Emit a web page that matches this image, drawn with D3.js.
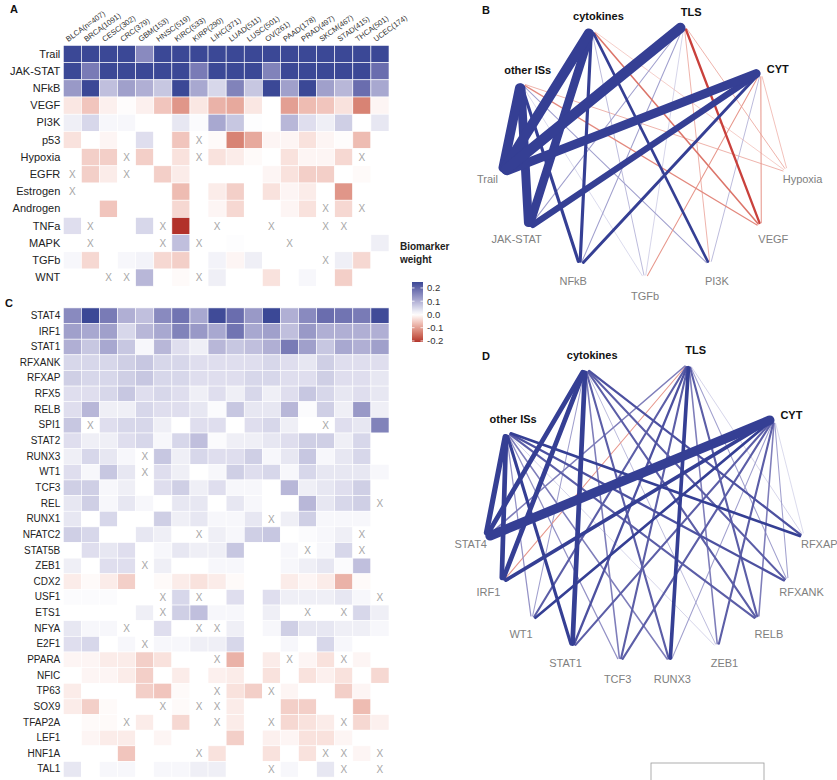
<!DOCTYPE html>
<html><head><meta charset="utf-8">
<script src="https://cdn.jsdelivr.net/npm/d3@7"></script>
<style>body{margin:0;background:#fff} text{font-family:"Liberation Sans",Arial,sans-serif}</style>
</head><body><svg id="c" width="837" height="780"></svg>
<script>
// ---------------- DATA ----------------
const cancers = ["BLCA(n=407)","BRCA(1091)","CESC(302)","CRC(379)","GBM(153)","HNSC(519)","KIRC(533)","KIRP(290)","LIHC(371)","LUAD(511)","LUSC(501)","OV(261)","PAAD(178)","PRAD(497)","SKCM(467)","STAD(415)","THCA(501)","UCEC(174)"];

const pathwaysA = ["Trail","JAK-STAT","NFkB","VEGF","PI3K","p53","Hypoxia","EGFR","Estrogen","Androgen","TNFa","MAPK","TGFb","WNT"];
const valuesA = [
 [.25,.25,.25,.25,.15,.25,.25,.25,.25,.25,.25,.25,.25,.25,.25,.25,.25,.25],
 [.25,.17,.25,.25,.25,.25,.25,.17,.25,.25,.25,.16,.25,.25,.25,.25,.25,.19],
 [.13,.25,.08,.12,.1,.07,.25,.11,.05,.16,.07,.25,.12,.25,.12,.09,.19,.11],
 [-.025,-.06,-.015,-.003,-.015,-.06,-.11,-.025,-.08,-.09,-.025,0,-.1,-.07,-.06,-.03,-.13,-.01],
 [.02,.05,.01,.01,0,0,.03,.005,.11,.07,.003,0,.09,.04,.02,.06,0,.03],
 [-.03,0,-.01,0,.04,0,-.06,null,-.005,-.13,-.09,-.01,-.01,-.03,-.01,-.003,-.07,0],
 [0,-.05,-.05,null,-.05,0,-.03,null,-.03,-.02,-.005,0,-.03,-.01,-.01,-.04,null,0],
 [null,-.05,-.02,null,0,-.05,-.02,0,0,0,0,-.01,-.03,-.05,-.05,0,-.005,0],
 [null,0,0,0,0,0,-.07,0,-.02,-.05,0,-.03,-.01,-.02,0,-.11,0,0],
 [0,0,-.06,0,0,0,-.04,0,-.01,-.04,0,0,-.01,-.03,null,-.04,null,0],
 [.04,null,0,0,.05,null,-.25,0,null,0,0,null,0,0,null,null,0,0],
 [0,null,0,0,0,null,.08,null,0,.003,0,0,null,0,0,0,0,.02],
 [.01,-.04,0,.01,.015,-.04,-.05,0,.015,-.01,.02,0,0,0,null,.02,-.04,0],
 [0,0,null,null,.09,0,-.005,null,.02,0,0,-.03,0,.01,0,-.05,0,0]
];

const factorsC = ["STAT4","IRF1","STAT1","RFXANK","RFXAP","RFX5","RELB","SPI1","STAT2","RUNX3","WT1","TCF3","REL","RUNX1","NFATC2","STAT5B","ZEB1","CDX2","USF1","ETS1","NFYA","E2F1","PPARA","NFIC","TP63","SOX9","TFAP2A","LEF1","HNF1A","TAL1"];
const valuesC = [
 [.15,.25,.17,.1,.08,.15,.18,.11,.24,.19,.13,.25,.1,.15,.19,.18,.17,.24],
 [.12,.11,.12,.05,.09,.11,.16,.13,.11,.18,.11,.12,.08,.13,.1,.1,.1,.1],
 [.1,.07,.11,.07,.01,.09,.04,.02,.09,.07,.08,.1,.17,.12,.07,.11,.1,.12],
 [.05,.05,.05,.06,.07,.05,.05,.04,.04,.04,.04,.05,.04,.03,.06,.04,.04,.04],
 [.06,.05,.05,.06,.07,.05,.05,.04,.04,.04,.05,.05,.04,.04,.06,.04,.04,.03],
 [.04,.04,.05,.07,.04,.05,.04,.02,.04,.02,.05,.02,.04,.07,.05,.03,.04,.03],
 [.04,.09,.02,.02,.05,.04,.04,.03,.005,.07,.03,.03,.09,.005,.06,.02,.13,.02],
 [.07,null,.04,.05,.05,.02,0,.04,.04,0,.04,.05,.02,0,null,.04,.03,.16],
 [.04,.02,.02,.04,.05,.01,.05,.08,.005,.02,.02,.03,.04,.06,.06,.02,.05,0],
 [.02,.05,.03,.01,null,.07,.02,.05,.04,.04,.06,.01,.03,.07,.01,.03,.05,0],
 [.04,.01,.07,.03,null,.04,.02,0,.01,.06,.04,.05,.01,.05,.03,.03,.03,.01],
 [.06,.06,.01,.02,0,.04,.06,.02,.04,.01,.01,0,.09,.02,.03,.04,.06,0],
 [.03,.06,.01,.03,.01,0,.03,.03,0,.03,.01,0,0,.09,.03,.05,.06,null],
 [.03,0,.05,0,0,.06,.02,.03,.01,.01,.03,null,.02,.06,.01,.01,.01,0],
 [.06,.05,0,0,.03,.02,0,null,.02,.01,.06,.07,0,.005,.01,.02,null,0],
 [0,.04,.03,.04,0,.01,.03,.02,.02,.07,0,0,.01,null,.01,.05,null,0],
 [.02,0,.04,.04,null,.02,0,0,.01,.01,0,0,.01,.02,.03,.005,.08,0],
 [-.02,-.005,-.02,-.05,0,-.005,-.02,-.03,-.02,-.005,0,0,-.02,-.01,-.02,-.08,-.005,0],
 [.005,.005,.005,0,0,null,.05,null,0,.04,0,.04,.02,.02,.02,.03,.01,null],
 [0,0,0,0,.02,null,.06,.08,.01,.01,0,.02,0,null,0,null,.05,.02],
 [.03,.01,.01,null,0,.04,0,null,null,.02,0,.01,.06,.03,.03,.02,.02,.01],
 [.04,.05,0,.01,null,.01,.01,.02,.02,.05,0,0,.01,0,.05,.01,0,0],
 [-.01,-.01,-.02,-.02,-.05,-.03,0,0,null,-.08,0,-.02,null,-.01,-.03,null,-.01,0],
 [0,-.01,-.01,-.02,-.05,0,-.02,0,-.015,-.02,0,-.03,0,-.03,-.015,-.03,0,-.04],
 [-.02,0,0,0,-.05,-.06,-.005,0,null,-.03,-.05,null,-.01,0,0,-.05,-.01,0],
 [-.02,-.05,-.005,0,0,null,-.005,null,null,-.02,0,0,-.05,-.05,0,0,-.07,0],
 [0,-.005,-.005,null,-.02,0,-.04,0,null,-.02,0,null,-.04,-.03,-.02,null,-.04,-.015],
 [0,-.01,-.02,-.02,0,-.01,0,0,0,-.05,0,-.015,-.01,-.03,-.03,-.01,0,0],
 [0,0,0,-.06,0,0,0,null,-.03,0,0,-.03,0,-.03,null,null,-.01,null],
 [.03,0,.01,.01,0,.01,.01,.02,.02,0,0,null,.01,0,.03,null,0,null]
];

const legendTicks = [-0.2,-0.1,0,0.1,0.2];

const immuneNodes = ["other ISs","cytokines","TLS","CYT"];
const nodesB = ["Hypoxia","VEGF","PI3K","TGFb","NFkB","JAK-STAT","Trail"];
const edgesB = [
 ["other ISs","Trail",0.9],["other ISs","JAK-STAT",0.85],["other ISs","NFkB",0.3],["other ISs","PI3K",0.1],["other ISs","TGFb",0.05],["other ISs","VEGF",-0.12],["other ISs","Hypoxia",-0.08],
 ["cytokines","Trail",0.95],["cytokines","JAK-STAT",0.8],["cytokines","NFkB",0.3],["cytokines","PI3K",0.25],["cytokines","TGFb",0.08],["cytokines","VEGF",-0.15],["cytokines","Hypoxia",-0.06],
 ["TLS","Trail",1.0],["TLS","JAK-STAT",0.1],["TLS","NFkB",0.1],["TLS","TGFb",0.06],["TLS","PI3K",-0.08],["TLS","VEGF",-0.22],["TLS","Hypoxia",-0.08],
 ["CYT","Trail",0.85],["CYT","JAK-STAT",0.6],["CYT","NFkB",0.28],["CYT","TGFb",-0.1],["CYT","PI3K",0.08],["CYT","VEGF",-0.1],["CYT","Hypoxia",-0.07]
];
const nodesD = ["RFXAP","RFXANK","RELB","ZEB1","RUNX3","TCF3","STAT1","WT1","IRF1","STAT4"];
const edgesD = [
 ["other ISs","STAT4",0.5],["other ISs","IRF1",0.45],["other ISs","WT1",0.12],["other ISs","STAT1",0.3],["other ISs","TCF3",0.12],["other ISs","RUNX3",0.15],["other ISs","ZEB1",0.06],["other ISs","RELB",0.2],["other ISs","RFXANK",0.22],["other ISs","RFXAP",0.25],
 ["cytokines","STAT4",0.45],["cytokines","IRF1",0.45],["cytokines","WT1",0.1],["cytokines","STAT1",0.45],["cytokines","TCF3",0.15],["cytokines","RUNX3",0.2],["cytokines","ZEB1",0.08],["cytokines","RELB",0.2],["cytokines","RFXANK",0.2],["cytokines","RFXAP",0.22],
 ["TLS","STAT4",0.15],["TLS","IRF1",-0.1],["TLS","WT1",0.2],["TLS","STAT1",0.22],["TLS","TCF3",0.2],["TLS","RUNX3",0.35],["TLS","ZEB1",0.15],["TLS","RELB",0.2],["TLS","RFXANK",0.1],["TLS","RFXAP",0.06],
 ["CYT","STAT4",0.9],["CYT","IRF1",0.35],["CYT","WT1",0.25],["CYT","STAT1",0.2],["CYT","TCF3",0.2],["CYT","RUNX3",0.1],["CYT","ZEB1",0.2],["CYT","RELB",0.15],["CYT","RFXANK",0.1],["CYT","RFXAP",0.05]
];

// ---------------- DRAW ----------------
const svg = d3.select("#c");
svg.append("rect").attr("width",837).attr("height",780).attr("fill","#fff");

const color = d3.scaleLinear().domain([-0.21,0,0.245])
  .range(["#b2312a","#ffffff","#3b4896"]).interpolate(d3.interpolateLab).clamp(true);
const x = d3.scaleBand().domain(cancers).range([63.3,389]);

function heat(rows, vals, y0, y1, fs){
  const y = d3.scaleBand().domain(rows).range([y0,y1]);
  const g = svg.append("g");
  rows.forEach((r,i)=>vals[i].forEach((v,j)=>{
    const cx = x(cancers[j]), cy = y(r);
    g.append("rect").attr("x",cx).attr("y",cy).attr("width",x.bandwidth()).attr("height",y.bandwidth())
      .attr("fill", v==null ? "#fff" : color(v)).attr("stroke","#fff").attr("stroke-width",0.6);
    if(v==null) g.append("text").attr("x",cx+x.bandwidth()/2).attr("y",cy+y.bandwidth()/2)
      .attr("text-anchor","middle").attr("dominant-baseline","central")
      .attr("font-size",10).attr("fill","#a6a6a6").text("X");
  }));
  const ax = svg.append("g").attr("transform",`translate(${x.range()[0]-2},0)`)
    .call(d3.axisLeft(y).tickSize(0).tickPadding(1));
  ax.select(".domain").remove();
  ax.selectAll("text").attr("font-size",fs).attr("fill","#222").style("font-family",'"Liberation Sans",Arial,sans-serif');
}
heat(pathwaysA, valuesA, 45.4, 286.2, 11);
heat(factorsC, valuesC, 307.9, 777.1, 10);

// column labels
cancers.forEach(c=>{
  const px = x(c)+x.bandwidth()/2 - 4, py = 42;
  svg.append("text").attr("transform",`translate(${px},${py}) rotate(-36)`)
    .attr("font-size",7.6).attr("fill","#333").text(c);
});

// panel letters
[["A",10,13],["C",5,307],["B",482,14],["D",482,360]].forEach(([t,px,py])=>
  svg.append("text").attr("x",px).attr("y",py).attr("font-size",11).attr("font-weight","bold").attr("fill","#111").text(t));

// legend
const lg = svg.append("g");
lg.append("text").attr("x",400).attr("y",250).attr("font-size",10).attr("font-weight","bold").attr("fill","#222").text("Biomarker");
lg.append("text").attr("x",400).attr("y",263).attr("font-size",10).attr("font-weight","bold").attr("fill","#222").text("weight");
const ly = d3.scaleLinear().domain([-0.208,0.245]).range([342,282]);
const grad = svg.append("defs").append("linearGradient").attr("id","lgr").attr("x1",0).attr("y1",0).attr("x2",0).attr("y2",1);
d3.range(0,21).forEach(i=>{
  const v = 0.245 - i*(0.245+0.208)/20;
  grad.append("stop").attr("offset",(i/20*100)+"%").attr("stop-color",color(v));
});
lg.append("rect").attr("x",412).attr("y",282).attr("width",11).attr("height",60).attr("fill","url(#lgr)");
legendTicks.forEach(t=>{
  const yy = ly(t);
  lg.append("line").attr("x1",412).attr("x2",414.5).attr("y1",yy).attr("y2",yy).attr("stroke","#fff").attr("stroke-width",0.8);
  lg.append("line").attr("x1",420.5).attr("x2",423).attr("y1",yy).attr("y2",yy).attr("stroke","#fff").attr("stroke-width",0.8);
  lg.append("text").attr("x",427).attr("y",yy).attr("dominant-baseline","central").attr("font-size",9.5).attr("fill","#333")
    .text(d3.format(".1f")(t).replace("−","-"));
});

// networks
const wScale = d3.scaleLinear().domain([0,1]).range([0,10.5]);
const blue = d3.scaleLinear().domain([0,0.25]).range(["#e6e8f4","#353f94"]).interpolate(d3.interpolateLab).clamp(true);
const red = d3.scaleLinear().domain([0,0.25]).range(["#f6d9d6","#c0232a"]).interpolate(d3.interpolateLab).clamp(true);

function network(cx, cy, rx, ry, top, bottom, edges){
  const aTop = d3.scaleLinear().domain([0, top.length-1]).range([211,323]);
  const aBot = d3.scaleLinear().domain([0, bottom.length-1]).range([10,170]);
  const pos = {};
  top.forEach((n,i)=>{const a=aTop(i)*Math.PI/180; pos[n]={x:cx+rx*Math.cos(a), y:cy+ry*Math.sin(a), a, top:true};});
  bottom.forEach((n,i)=>{const a=aBot(i)*Math.PI/180; pos[n]={x:cx+rx*Math.cos(a), y:cy+ry*Math.sin(a), a, top:false};});
  const g = svg.append("g");
  const sorted = edges.slice().sort((p,q)=>Math.abs(p[2])-Math.abs(q[2]));
  sorted.forEach(([s,t,w])=>{
    const p=pos[s], q=pos[t];
    const dx=q.x-p.x, dy=q.y-p.y, L=Math.hypot(dx,dy), ux=dx/L, uy=dy/L, c=5;
    g.append("line").attr("x1",p.x+ux*c).attr("y1",p.y+uy*c).attr("x2",q.x-ux*c).attr("y2",q.y-uy*c)
      .attr("stroke", w>=0 ? blue(Math.abs(w)) : red(Math.abs(w)))
      .attr("stroke-width", Math.max(0.6, wScale(Math.abs(w))))
      .attr("stroke-linecap","round");
  });
  Object.entries(pos).forEach(([n,p])=>{
    if(p.top){
      const side = Math.cos(p.a) > 0.7;
      g.append("text").attr("x", side ? p.x+6 : p.x+7).attr("y", side ? p.y-3 : p.y-13)
        .attr("text-anchor", side ? "start" : "middle").attr("dominant-baseline","central")
        .attr("font-size",11).attr("font-weight","bold").attr("fill","#111").text(n);
    } else {
      g.append("text").attr("x",p.x+15*Math.cos(p.a)).attr("y",p.y+4+12*Math.sin(p.a))
        .attr("text-anchor","middle").attr("dominant-baseline","central")
        .attr("font-size",11).attr("fill","#808080").text(n);
    }
  });
}
network(645,150,145,130, immuneNodes, nodesB, edgesB);
network(645,511,162,154, immuneNodes, nodesD, edgesD);

// empty box at bottom right
svg.append("rect").attr("x",651).attr("y",763).attr("width",113).attr("height",30)
  .attr("fill","none").attr("stroke","#999").attr("stroke-width",0.8);
</script></body></html>
